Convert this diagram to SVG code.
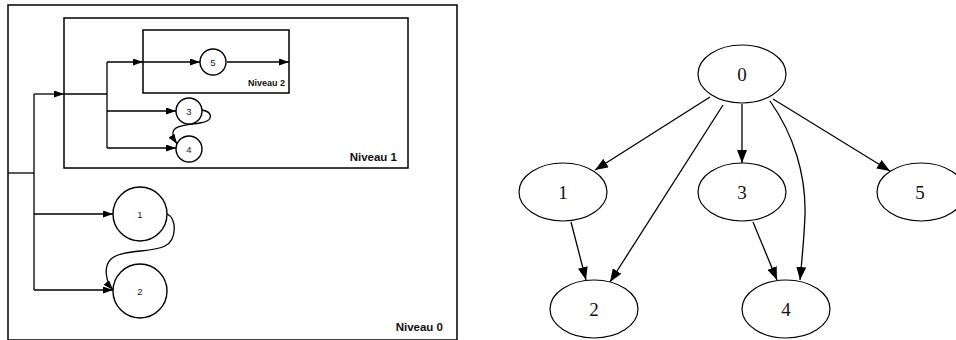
<svg xmlns="http://www.w3.org/2000/svg" width="956" height="340" viewBox="0 0 956 340">
<style>
.box{fill:none;stroke:#000;stroke-width:1.5}
.c{fill:#fff;stroke:#000;stroke-width:1.4}
.e{fill:#fff;stroke:#000;stroke-width:1.2}
.ln{fill:none;stroke:#000;stroke-width:1.3}
.gl{fill:none;stroke:#000;stroke-width:1.3}
.lbl{font-family:"Liberation Sans",Arial,sans-serif;font-weight:bold;fill:#111}
.n{font-family:"Liberation Sans",Arial,sans-serif;font-size:9.5px;fill:#222;text-anchor:middle;dominant-baseline:central}
.g{font-family:"Liberation Serif","Times New Roman",serif;font-size:19px;fill:#111;text-anchor:middle;dominant-baseline:central}
</style>
<defs>
<marker id="a" markerUnits="userSpaceOnUse" markerWidth="10" markerHeight="7" refX="10" refY="3.5" orient="auto">
<path d="M0,0 L10,3.5 L0,7 z" fill="#000"/>
</marker>
<marker id="b" markerUnits="userSpaceOnUse" markerWidth="13" markerHeight="10" refX="13" refY="5" orient="auto">
<path d="M0,0 L13,5 L0,10 z" fill="#000"/>
</marker>
</defs>
<rect width="956" height="340" fill="#fff"/>

<g id="niveau0">
<rect class="box" x="8" y="5" width="449" height="335"/>
<text class="lbl" x="443" y="331" font-size="11.5" text-anchor="end">Niveau 0</text>
</g>
<g id="niveau1">
<rect class="box" x="64" y="18" width="344" height="150"/>
<text class="lbl" x="397" y="161" font-size="11.5" text-anchor="end">Niveau 1</text>
</g>
<g id="niveau2">
<rect class="box" x="143" y="30" width="146" height="63"/>
<text class="lbl" x="285" y="86" font-size="9" text-anchor="end">Niveau 2</text>
</g>

<g id="connectors-left">
<path class="ln" d="M8,173 H34"/>
<path class="ln" d="M34,94 V290"/>
<path class="ln" d="M34,94 H64" marker-end="url(#a)"/>
<path class="ln" d="M64,94 H107"/>
<path class="ln" d="M107,62 V148"/>
<path class="ln" d="M107,62 H143" marker-end="url(#a)"/>
<path class="ln" d="M143,62 H200" marker-end="url(#a)"/>
<path class="ln" d="M227,62 H289" marker-end="url(#a)"/>
<path class="ln" d="M107,111 H176" marker-end="url(#a)"/>
<path class="ln" d="M107,148 H176" marker-end="url(#a)"/>
<path class="ln" d="M202,110 C213,112 214,121 200,123 C187,125 171,125 173,135 C174,139 175,141 177,144" marker-end="url(#a)"/>
<path class="ln" d="M34,214 H113" marker-end="url(#a)"/>
<path class="ln" d="M34,290 H113" marker-end="url(#a)"/>
<path class="ln" d="M167,214 C177,218 177,240 165,246 C152,253 122,249 111,259 C103,267 106,282 113,290" marker-end="url(#a)"/>
</g>

<g id="L5"><circle class="c" cx="213" cy="62" r="13"/><text class="n" x="213" y="62">5</text></g>
<g id="L3"><circle class="c" cx="189" cy="111" r="13"/><text class="n" x="189" y="111">3</text></g>
<g id="L4"><circle class="c" cx="189" cy="149" r="13"/><text class="n" x="189" y="149">4</text></g>
<g id="L1"><circle class="c" cx="140" cy="214" r="27"/><text class="n" x="140" y="214">1</text></g>
<g id="L2"><circle class="c" cx="140" cy="291" r="27"/><text class="n" x="140" y="291">2</text></g>

<g id="connectors-right">
<path class="gl" d="M710,97 L595,170" marker-end="url(#b)"/>
<path class="gl" d="M723,105 L610,282" marker-end="url(#b)"/>
<path class="gl" d="M742,104 L742,163" marker-end="url(#b)"/>
<path class="gl" d="M770,101 C794,135 806,175 805,215 C804,240 802,260 800,280" marker-end="url(#b)"/>
<path class="gl" d="M773,99 L890,171" marker-end="url(#b)"/>
<path class="gl" d="M571,222 L586,280" marker-end="url(#b)"/>
<path class="gl" d="M753,222 L777,280" marker-end="url(#b)"/>
</g>

<g id="G0"><ellipse class="e" cx="742" cy="74" rx="44" ry="29"/><text class="g" x="742" y="74">0</text></g>
<g id="G1"><ellipse class="e" cx="563" cy="192" rx="44" ry="29"/><text class="g" x="563" y="192">1</text></g>
<g id="G3"><ellipse class="e" cx="742" cy="192" rx="44" ry="29"/><text class="g" x="742" y="192">3</text></g>
<g id="G5"><ellipse class="e" cx="921" cy="192" rx="44" ry="29"/><text class="g" x="920" y="192">5</text></g>
<g id="G2"><ellipse class="e" cx="594" cy="309" rx="44" ry="29"/><text class="g" x="594" y="309">2</text></g>
<g id="G4"><ellipse class="e" cx="786" cy="309" rx="44" ry="29"/><text class="g" x="786" y="309">4</text></g>
</svg>
